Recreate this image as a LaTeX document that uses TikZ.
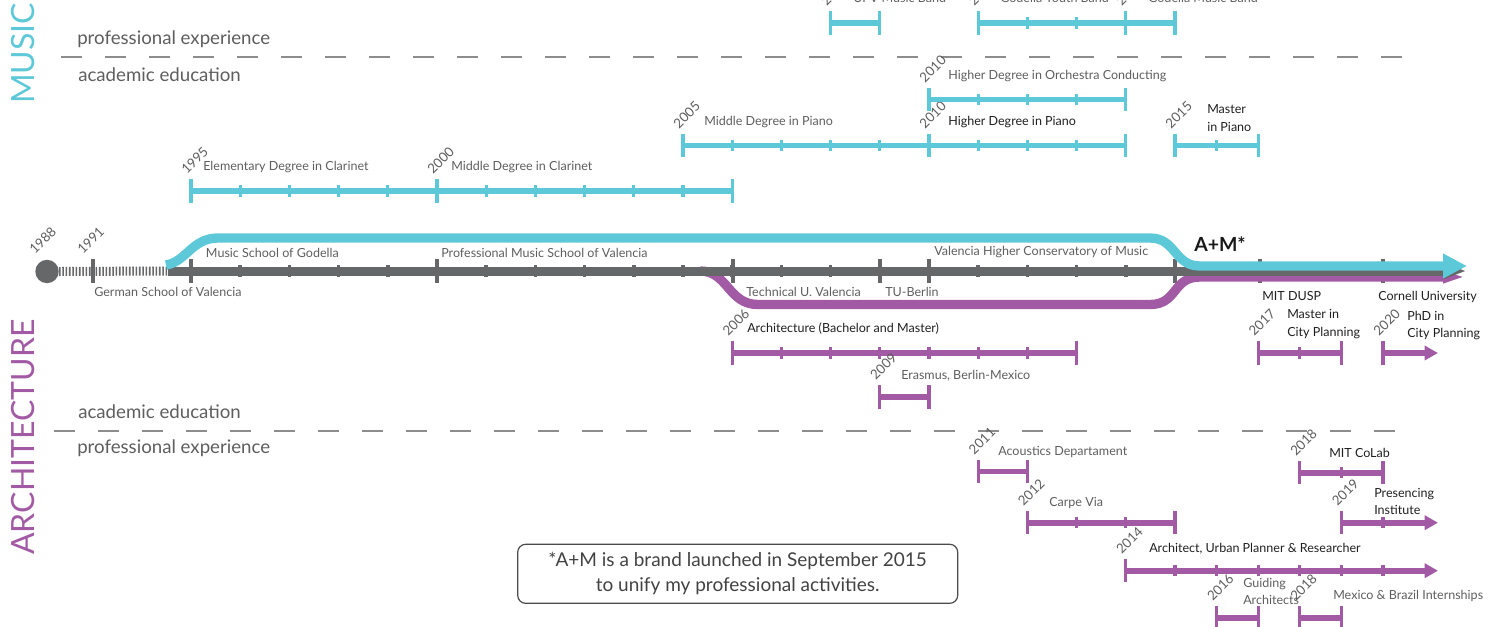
\documentclass[tikz,border=0pt]{standalone}
\usepackage{fontspec}
\setmainfont{Lato}
\usetikzlibrary{arrows.meta}

\definecolor{musicblue}{HTML}{5DC8D8}
\definecolor{archpurple}{HTML}{A25AA4}
\definecolor{axisgray}{HTML}{666769}
\definecolor{labelgray}{HTML}{5E5E5E}
\definecolor{dashgray}{HTML}{8D8D8D}

% year -> x position (the scale gets tighter after 2015)
\pgfmathdeclarefunction{yx}{1}{%
  \pgfmathparse{(#1<2015.5)*(191+(#1-1995)*49.2)+(#1>2015.5)*(1175+(#1-2015)*41.6)}%
}

\tikzset{
  spanline/.style={line width=4.3pt},
  endtick/.style={line width=2.5pt},
  midtick/.style={line width=2.5pt},
  yearlbl/.style={rotate=45, anchor=base west, inner sep=0pt, text=labelgray, font=\fontsize{10}{12}\selectfont},
  lbl/.style={anchor=base west, inner sep=0pt, text=labelgray, font=\fontsize{9.4}{11}\selectfont},
  keylbl/.style={lbl, text=black!88},
  bandlbl/.style={anchor=base west, inner sep=0pt, text=labelgray, font=\fontsize{14}{16}\selectfont},
  fieldlbl/.style={rotate=90, anchor=base west, inner sep=0pt, font=\fontsize{24}{28}\selectfont},
  divider/.style={dashgray, line width=1.8pt, dash pattern=on 15.5pt off 17.5pt},
}

% colour, row, first year, last year, name
\newcommand{\tlspan}[5]{%
  \draw[#1, spanline] ({yx(#3)},#2) -- ({yx(#4)},#2);
  \foreach \yr in {#3,...,#4}
    \draw[#1, midtick] ({yx(\yr)},#2-5.7) -- ({yx(\yr)},#2+5.7);
  \draw[#1, endtick] ({yx(#3)},#2-11.7) -- ({yx(#3)},#2+11.7)
    ({yx(#4)},#2-11.7) -- ({yx(#4)},#2+11.7);
  \node[yearlbl] (#5-yr) at ({yx(#3)-4},#2-16) {#3};
}
% colour, row, first year, tip x, name
\newcommand{\tlarrow}[5]{%
  \draw[#1, spanline, -{Triangle[length=10pt,width=10.5pt]}] ({yx(#3)},#2) -- (#4,#2);
  \foreach \yr in {#3,...,2020}
    \draw[#1, midtick] ({yx(\yr)},#2-5.7) -- ({yx(\yr)},#2+5.7);
  \draw[#1, endtick] ({yx(#3)},#2-11.7) -- ({yx(#3)},#2+11.7);
  \node[yearlbl] (#5-yr) at ({yx(#3)-4},#2-16) {#3};
}

\begin{document}
\begin{tikzpicture}[x=0.75pt, y=-0.75pt]
\useasboundingbox (0,0) rectangle (1497,626);

% side titles
\node[fieldlbl, text=musicblue] (music) at (35,104) {MUSIC};
\node[fieldlbl, text=archpurple] (arch) at (35,555) {ARCHITECTURE};

% dividers
\draw[divider] (61,57) -- (1406,57);
\draw[divider] (54,431) -- (1400,431);
\node[bandlbl] (mus-pro) at (77,44) {professional experience};
\node[bandlbl] (mus-aca) at (78,81) {academic education};
\node[bandlbl] (arc-aca) at (78,418.3) {academic education};
\node[bandlbl] (arc-pro) at (77,453.3) {professional experience};

% main line: ticks first
\foreach \yr in {1996,...,2014}
  \draw[axisgray, line width=2.6pt] ({yx(\yr)},265) -- ({yx(\yr)},277);
\foreach \tx in {93,191,437,733,880,929,1175,1260,1383}
  \draw[axisgray, line width=3.2pt] (\tx,259) -- (\tx,283);

\draw[archpurple, line width=7pt, -{Triangle[length=18pt,width=8pt]}]
  (700,271) .. controls (728,271) and (728,304.5) .. (758,304.5) -- (1150,304.5)
  .. controls (1178,304.5) and (1172,277) .. (1200,277) -- (1467,277);

\node[circle, fill=axisgray, minimum size=17.5pt, inner sep=0pt] (birth) at (47,271.5) {};
\draw[axisgray, line width=6.75pt, dash pattern=on 1.2pt off 1.3pt] (birth.east) -- (168,271);
\draw[axisgray, line width=6.75pt, -{Triangle[length=18pt,width=11pt]}] (168,271) -- (1467,271);

\draw[musicblue, line width=7pt, -{Triangle[length=18pt,width=17.5pt]}]
  (166,265) .. controls (186,262) and (192,238) .. (218,238) -- (1150,238)
  .. controls (1176,238) and (1174,266) .. (1200,266) -- (1467,266);

\node[yearlbl] (y1988) at (35,255) {1988};
\node[yearlbl] (y1991) at (83,255) {1991};
\node[lbl] (german) at (94,296.7) {German School of Valencia};
\node[lbl] (godella) at (205.7,257.3) {Music School of Godella};
\node[lbl] (promusic) at (441,257.3) {Professional Music School of Valencia};
\node[lbl] (upvlc) at (746,296) {Technical U. Valencia};
\node[lbl] (tuberlin) at (885,296) {TU-Berlin};
\node[lbl] (conserv) at (934,255) {Valencia Higher Conservatory of Music};
\node[anchor=base west, inner sep=0pt, text=black!90, font=\fontsize{14.6}{17}\selectfont\bfseries] (am) at (1194,251.7) {A+M*};
\node[keylbl] (dusp) at (1262,300) {MIT DUSP};
\node[keylbl] (cornell) at (1378,300) {Cornell University};

% music, professional
\tlspan{musicblue}{23}{2008}{2009}{upvband}
\tlspan{musicblue}{23}{2011}{2014}{youth}
\tlspan{musicblue}{23}{2014}{2015}{gmb}
\node[lbl] (upvband) at (853,2.5) {UPV Music Band};
\node[lbl] (youth) at (1000,2.5) {Godella Youth Band};
\node[lbl] (gmb) at (1148,2.5) {Godella Music Band};

% music, academic
\tlspan{musicblue}{191}{1995}{2000}{elclar}
\tlspan{musicblue}{191}{2000}{2006}{midclar}
\tlspan{musicblue}{145.5}{2005}{2010}{midpiano}
\tlspan{musicblue}{145.5}{2010}{2014}{highpiano}
\tlspan{musicblue}{99.5}{2010}{2014}{conduct}
\tlspan{musicblue}{145.5}{2015}{2017}{mpiano}
\node[lbl] (elclar) at (203,170.7) {Elementary Degree in Clarinet};
\node[lbl] (midclar) at (451,170.7) {Middle Degree in Clarinet};
\node[lbl] (midpiano) at (704,125) {Middle Degree in Piano};
\node[keylbl] (highpiano) at (948,125) {Higher Degree in Piano};
\node[lbl] (conduct) at (948,79) {Higher Degree in Orchestra Conducting};
\node[keylbl] (mpiano) at (1207,113.3) {Master};
\node[keylbl] (mpiano-2) at (1207,131) {in Piano};

% architecture, academic
\tlspan{archpurple}{353}{2006}{2013}{archbm}
\tlspan{archpurple}{397}{2009}{2010}{erasmus}
\tlspan{archpurple}{353}{2017}{2019}{mcp}
\tlarrow{archpurple}{353}{2020}{1438}{phd}
\node[keylbl] (archbm) at (747,332.7) {Architecture (Bachelor and Master)};
\node[lbl] (erasmus) at (901,379) {Erasmus, Berlin-Mexico};
\node[keylbl] (mcp) at (1287,318.3) {Master in};
\node[keylbl] (mcp-2) at (1287,336.7) {City Planning};
\node[keylbl] (phd) at (1407,320) {PhD in};
\node[keylbl] (phd-2) at (1407,337.7) {City Planning};

% architecture, professional
\tlspan{archpurple}{471.5}{2011}{2012}{acoust}
\tlspan{archpurple}{522.7}{2012}{2015}{carpe}
\tlarrow{archpurple}{570.7}{2014}{1438}{aup}
\tlspan{archpurple}{618}{2016}{2017}{guiding}
\tlspan{archpurple}{618}{2018}{2019}{mexbr}
\tlspan{archpurple}{472.7}{2018}{2020}{colab}
\tlarrow{archpurple}{522.7}{2019}{1438}{presencing}
\node[lbl] (acoust) at (998,455) {Acoustics Departament};
\node[lbl] (carpe) at (1049,506) {Carpe Via};
\node[keylbl] (aup) at (1149,552.3) {Architect, Urban Planner \& Researcher};
\node[keylbl] (colab) at (1329,457.3) {MIT CoLab};
\node[keylbl] (presencing) at (1374,497.7) {Presencing};
\node[keylbl] (presencing-2) at (1374,514.3) {Institute};
\node[lbl] (guiding) at (1243,587.3) {Guiding};
\node[lbl] (guiding-2) at (1243,604) {Architects};
\node[lbl] (mexbr) at (1333,599.3) {Mexico \& Brazil Internships};

% note
\node[draw=black!70, line width=0.9pt, rounded corners=6pt, minimum width=330pt, minimum height=44.3pt,
  align=center, text=labelgray!70!black, font=\fontsize{14.25}{18.75}\selectfont] (note) at (737.7,573.8)
  {*A+M is a brand launched in September 2015\\to unify my professional activities.};
\end{tikzpicture}
\end{document}
